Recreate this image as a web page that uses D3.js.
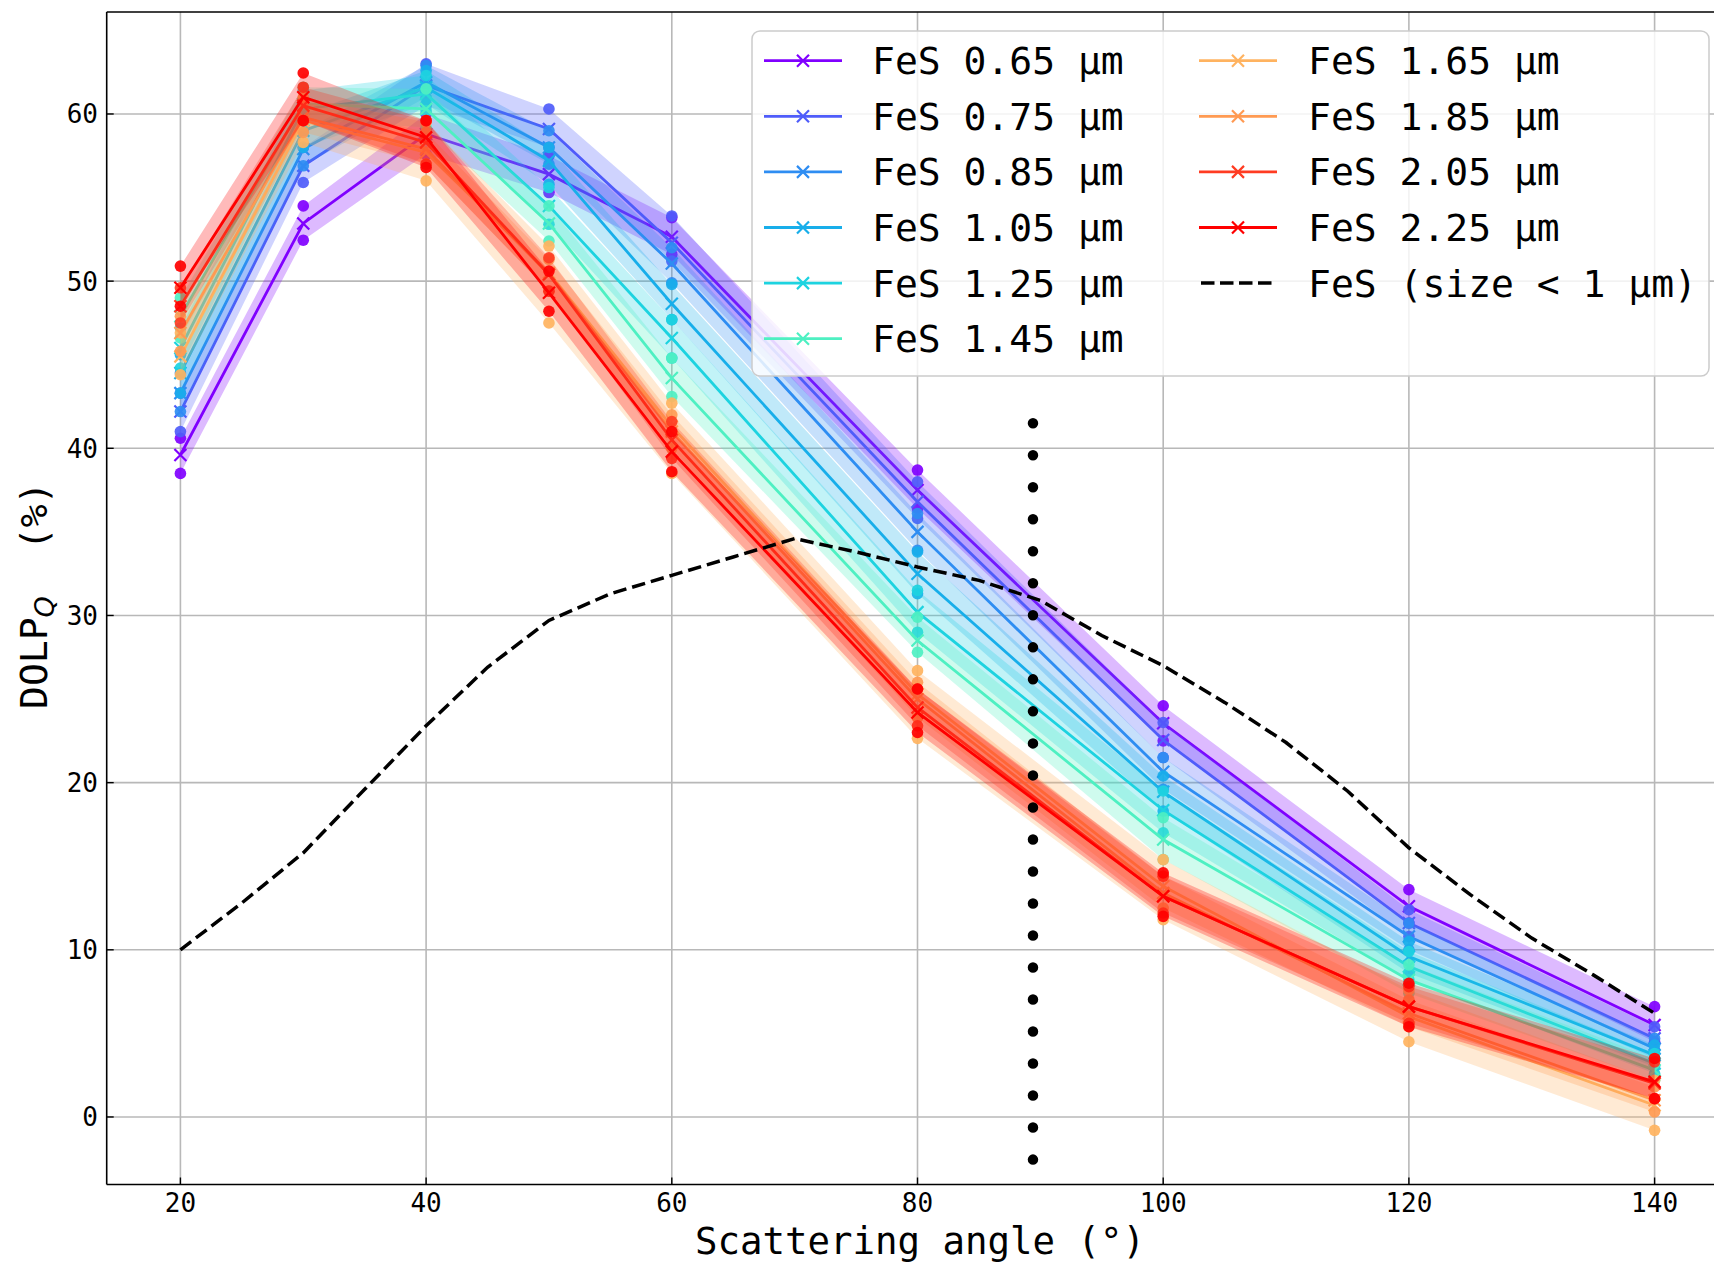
<!DOCTYPE html>
<html><head><meta charset="utf-8">
<script src="https://cdn.jsdelivr.net/npm/d3@7"></script>
<style>
html,body{margin:0;padding:0;background:#fff;}
svg{display:block;}
text{font-family:"DejaVu Sans Mono",monospace;fill:#000;}
</style></head>
<body>
<svg id="chart" width="1714" height="1263"></svg>
<script>
// ---------- data ----------
const angles = [20, 30, 40, 50, 60, 80, 100, 120, 140];
const sizes = ["0.65", "0.75", "0.85", "1.05", "1.25", "1.45", "1.65", "1.85", "2.05", "2.25"];
const colors = ["#8000ff", "#4f5cfa", "#2e8df2", "#18aeea", "#1dd3e0", "#4ef0c2", "#ffb360", "#ff9a52", "#ff3c22", "#ff0000"];

const mean065 = [39.6, 53.45, 58.8, 56.4, 52.65, 37.5, 23.55, 12.6, 5.5];
const lo065   = [38.5, 52.45, 57.6, 55.3, 51.6, 36.4, 22.5, 11.6, 4.5];
const hi065   = [40.6, 54.5, 60.0, 57.5, 53.8, 38.7, 24.6, 13.6, 6.6];

const mean075 = [42.2, 56.9, 61.7, 59.1, 52.3, 36.8, 22.55, 11.6, 4.7];
const lo075   = [41.0, 55.9, 60.5, 58.0, 51.2, 35.8, 21.5, 10.8, 4.0];
const hi075   = [43.3, 58.0, 63.0, 60.3, 53.9, 38.0, 23.6, 12.4, 5.4];

const mean085 = [43.3, 57.9, 61.9, 58.0, 51.05, 35.0, 20.65, 10.8, 4.1];
const lo085   = [42.2, 56.9, 61.0, 57.0, 49.9, 33.9, 19.6, 10.0, 3.5];
const hi085   = [44.5, 59.0, 62.9, 59.0, 52.0, 36.1, 21.5, 11.6, 4.7];

const mean105 = [44.5, 59.0, 61.6, 57.2, 48.65, 32.5, 19.45, 9.6, 3.7];
const lo105   = [43.3, 58.0, 60.6, 55.8, 47.7, 31.3, 18.3, 8.6, 3.0];
const hi105   = [45.6, 60.0, 62.6, 58.0, 49.8, 33.8, 20.4, 10.5, 4.3];

const mean125 = [46.0, 60.3, 61.2, 54.5, 46.6, 30.2, 18.35, 9.0, 3.2];
const lo125   = [44.8, 59.3, 60.2, 53.4, 45.4, 29.0, 17.0, 8.2, 2.6];
const hi125   = [47.2, 61.4, 62.3, 55.6, 47.7, 31.5, 19.5, 9.9, 3.8];

const mean145 = [47.9, 60.6, 60.3, 53.45, 44.2, 28.5, 16.6, 8.2, 2.8];
const lo145   = [46.6, 59.6, 59.2, 52.4, 43.1, 27.8, 15.4, 7.4, 2.2];
const hi145   = [49.0, 61.6, 61.5, 54.5, 45.4, 29.9, 17.9, 9.1, 3.5];

const mean165 = [45.5, 59.6, 57.7, 50.5, 41.3, 25.3, 13.8, 6.0, 0.7];
const lo165   = [44.4, 58.3, 56.0, 47.5, 38.5, 22.65, 11.8, 4.5, -0.8];
const hi165   = [46.9, 61.0, 59.5, 52.1, 42.7, 26.7, 15.4, 7.6, 2.2];

const mean185 = [46.9, 59.8, 57.9, 50.4, 41.0, 25.0, 13.4, 6.2, 1.0];
const lo185   = [45.8, 58.9, 57.0, 49.4, 40.0, 23.9, 12.5, 5.4, 0.3];
const hi185   = [47.9, 60.7, 58.9, 51.3, 42.0, 26.0, 14.4, 7.0, 1.8];

const mean205 = [48.5, 60.5, 58.3, 50.4, 40.5, 24.5, 13.2, 6.6, 2.0];
const lo205   = [47.5, 59.6, 57.0, 49.4, 39.4, 23.4, 12.2, 5.6, 1.1];
const hi205   = [49.6, 61.6, 59.6, 51.4, 41.6, 25.6, 14.4, 7.8, 3.3];

const mean225 = [49.6, 61.0, 58.6, 49.3, 39.8, 24.2, 13.2, 6.6, 2.1];
const lo225   = [48.5, 59.6, 56.8, 48.2, 38.6, 23.0, 12.0, 5.4, 1.1];
const hi225   = [50.9, 62.45, 59.6, 50.6, 41.0, 25.6, 14.6, 8.0, 3.5];

const means = [mean065, mean075, mean085, mean105, mean125, mean145, mean165, mean185, mean205, mean225];
const lows  = [lo065, lo075, lo085, lo105, lo125, lo145, lo165, lo185, lo205, lo225];
const highs = [hi065, hi075, hi085, hi105, hi125, hi145, hi165, hi185, hi205, hi225];

// small-grain reference curve
const refAngles = [20,25,30,35,40,45,50,55,60,65,70,75,80,85,90,95,100,105,110,115,120,125,130,135,140];
const refValues = [10.0,12.8,15.8,19.6,23.4,26.9,29.7,31.3,32.4,33.5,34.6,33.8,32.9,32.1,30.9,28.8,27.0,24.8,22.4,19.5,16.1,13.3,10.7,8.5,6.2];

// vertical dotted marker
const vlineAngle = 89.4;
const vlineRange = [41.5, -2.55];
const vlineDots = 24;

const xTicks = [20, 40, 60, 80, 100, 120, 140];
const yTicks = [0, 10, 20, 30, 40, 50, 60];

// ---------- layout ----------
const svg = d3.select("#chart");
const L = 106.7, R = 1728.3, T = 12, B = 1184.5;
const x = d3.scaleLinear().domain([14, 146]).range([L, R]);
const y = d3.scaleLinear().domain([-4.04, 66.1]).range([B, T]);

svg.append("defs").append("clipPath").attr("id", "pc")
  .append("rect").attr("x", L).attr("y", T).attr("width", R - L).attr("height", B - T);

// grid
const grid = svg.append("g");
xTicks.forEach(t => grid.append("line").attr("x1", x(t)).attr("x2", x(t)).attr("y1", T).attr("y2", B)
  .attr("stroke", "#b8b8b8").attr("stroke-width", 1.6));
yTicks.forEach(t => grid.append("line").attr("x1", L).attr("x2", R).attr("y1", y(t)).attr("y2", y(t))
  .attr("stroke", "#b8b8b8").attr("stroke-width", 1.6));

const plot = svg.append("g").attr("clip-path", "url(#pc)");

const area = d3.area().x((d, i) => x(angles[i])).y0(d => y(d[0])).y1(d => y(d[1]));
const line = d3.line().x((d, i) => x(angles[i])).y(d => y(d));

sizes.forEach((s, k) => {
  const c = colors[k];
  const band = lows[k].map((v, i) => [v, highs[k][i]]);
  plot.append("path").attr("d", area(band)).attr("fill", c).attr("fill-opacity", 0.27).attr("stroke", "none");
  plot.append("path").attr("d", line(means[k])).attr("fill", "none").attr("stroke", c).attr("stroke-width", 2.8);
  const g = plot.append("g");
  angles.forEach((a, i) => {
    [lows[k][i], highs[k][i]].forEach(v => {
      g.append("circle").attr("cx", x(a)).attr("cy", y(v)).attr("r", 5.8).attr("fill", c).attr("fill-opacity", 0.92);
    });
    const cx = x(a), cy = y(means[k][i]), h = 6;
    g.append("path").attr("d", `M${cx-h},${cy-h}L${cx+h},${cy+h}M${cx-h},${cy+h}L${cx+h},${cy-h}`)
      .attr("stroke", c).attr("stroke-width", 2.2).attr("fill", "none");
  });
});

// reference dashed curve
const refLine = d3.line().x((d, i) => x(refAngles[i])).y(d => y(d));
plot.append("path").attr("d", refLine(refValues)).attr("fill", "none").attr("stroke", "#000")
  .attr("stroke-width", 3.5).attr("stroke-dasharray", "13.5,6");

// dotted vertical line
const vy0 = y(vlineRange[0]), vy1 = y(vlineRange[1]);
const gap = (vy1 - vy0) / (vlineDots - 1);
plot.append("line").attr("x1", x(vlineAngle)).attr("x2", x(vlineAngle)).attr("y1", vy0).attr("y2", vy1 + 0.5)
  .attr("stroke", "#000").attr("stroke-width", 10.5).attr("stroke-linecap", "round")
  .attr("stroke-dasharray", `0.001,${gap - 0.001}`);

// spines
svg.append("line").attr("x1", L).attr("x2", L).attr("y1", T).attr("y2", B).attr("stroke", "#000").attr("stroke-width", 1.6);
svg.append("line").attr("x1", L).attr("x2", R).attr("y1", B).attr("y2", B).attr("stroke", "#000").attr("stroke-width", 1.6);
svg.append("line").attr("x1", L).attr("x2", R).attr("y1", T).attr("y2", T).attr("stroke", "#000").attr("stroke-width", 1.6);
svg.append("line").attr("x1", R).attr("x2", R).attr("y1", T).attr("y2", B).attr("stroke", "#000").attr("stroke-width", 1.6);

// ticks (inward) and labels
const tg = svg.append("g");
xTicks.forEach(t => {
  tg.append("line").attr("x1", x(t)).attr("x2", x(t)).attr("y1", B).attr("y2", B - 7).attr("stroke", "#000").attr("stroke-width", 1.4);
  tg.append("text").attr("x", x(t)).attr("y", 1211.5).attr("text-anchor", "middle").attr("font-size", 26).text(t);
});
yTicks.forEach(t => {
  tg.append("line").attr("x1", L).attr("x2", L + 7).attr("y1", y(t)).attr("y2", y(t)).attr("stroke", "#000").attr("stroke-width", 1.4);
  tg.append("text").attr("x", 98).attr("y", y(t) + 9.5).attr("text-anchor", "end").attr("font-size", 26).text(t);
});

// axis labels
svg.append("text").attr("x", 920).attr("y", 1254).attr("text-anchor", "middle").attr("font-size", 37.4)
  .text("Scattering angle (\u00b0)");
const yl = svg.append("text").attr("transform", "translate(47,709) rotate(-90)").attr("font-size", 38);
yl.append("tspan").text("DOLP");
yl.append("tspan").attr("dy", 7).attr("font-size", 27).attr("font-style", "italic")
  .style("font-family", "'DejaVu Sans', sans-serif").text("Q");
yl.append("tspan").attr("dy", -7).attr("dx", 46).text("(%)");

// legend
const lg = svg.append("g");
lg.append("rect").attr("x", 752).attr("y", 31).attr("width", 957).attr("height", 345).attr("rx", 8)
  .attr("fill", "#fff").attr("fill-opacity", 0.82).attr("stroke", "#cccccc").attr("stroke-width", 1.5);
const rowY = i => 60.7 + i * 55.6;
const items = sizes.map((s, k) => ({label: `FeS ${s} \u00b5m`, color: colors[k], dash: false}));
items.push({label: "FeS (size < 1 \u00b5m)", color: "#000", dash: true});
items.forEach((it, k) => {
  const col = k < 6 ? 0 : 1;
  const row = k < 6 ? k : k - 6;
  const hx0 = col === 0 ? 764 : 1199, hx1 = col === 0 ? 842 : 1277, tx = col === 0 ? 872 : 1308;
  const yy = rowY(row);
  if (it.dash) {
    lg.append("line").attr("x1", hx0 + 2).attr("x2", hx1 - 4).attr("y1", yy).attr("y2", yy).attr("stroke", "#000")
      .attr("stroke-width", 3.5).attr("stroke-dasharray", "13.5,5.5");
  } else {
    lg.append("line").attr("x1", hx0).attr("x2", hx1).attr("y1", yy).attr("y2", yy).attr("stroke", it.color).attr("stroke-width", 2.8);
    const cx = (hx0 + hx1) / 2, h = 6;
    lg.append("path").attr("d", `M${cx-h},${yy-h}L${cx+h},${yy+h}M${cx-h},${yy+h}L${cx+h},${yy-h}`)
      .attr("stroke", it.color).attr("stroke-width", 2.2).attr("fill", "none");
  }
  lg.append("text").attr("x", tx).attr("y", yy + 13.5).attr("font-size", 38).text(it.label);
});
</script>
</body></html>
